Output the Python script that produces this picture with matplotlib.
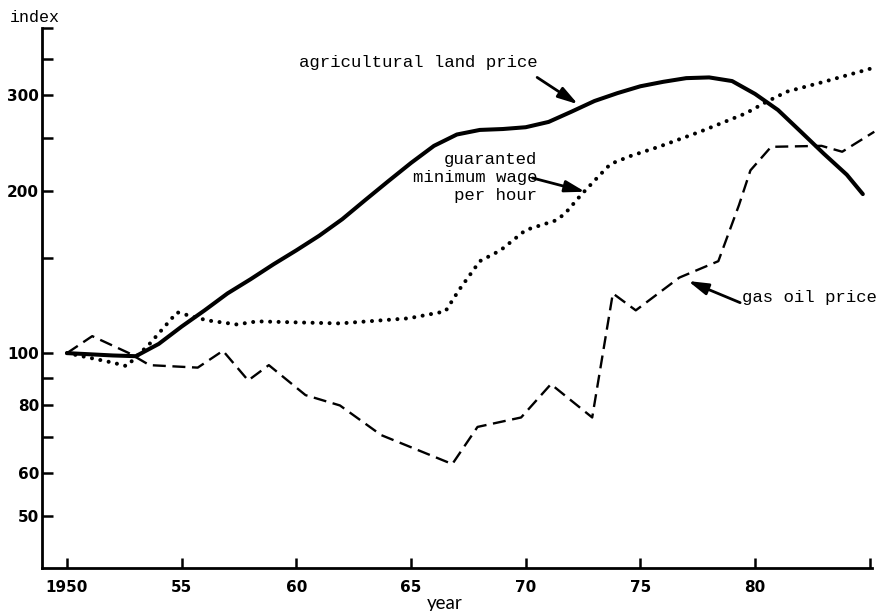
import matplotlib
matplotlib.use('Agg')
import matplotlib.pyplot as plt
from matplotlib.ticker import FixedLocator, FixedFormatter, NullFormatter

# agricultural land price (index, 1950 = 100)
land_years = [1950, 1951, 1952, 1953, 1954, 1955, 1956, 1957, 1958, 1959, 1960,
              1961, 1962, 1963, 1964, 1965, 1966, 1967, 1968, 1969, 1970, 1971,
              1972, 1973, 1974, 1975, 1976, 1977, 1978, 1979, 1980, 1981, 1982,
              1983, 1984, 1984.7]
land_index = [100, 99.5, 99, 98.7, 104, 112, 120, 129, 137, 146, 155,
              165, 177, 192, 208, 225, 242, 254, 259, 260, 262, 268,
              280, 293, 303, 312, 318, 323, 324, 319, 302, 282, 257,
              234, 214, 197]

# guaranteed minimum wage per hour
wage_years = [1950, 1951, 1952, 1952.6, 1953.6, 1954.8, 1956.1, 1957.4, 1958.3,
              1960, 1961.9, 1964.9, 1966.5, 1967.1, 1968, 1968.9, 1970, 1971.3,
              1971.7, 1972.4, 1973.2, 1973.7, 1974.6, 1975.8, 1977.6, 1979.6,
              1980.5, 1981.4, 1983, 1985]
wage_index = [100, 98, 96, 94.6, 104, 119, 115, 113, 114.5,
              114, 113.5, 116, 119.5, 131, 148, 155, 169, 176,
              181, 196, 213, 224, 232, 241, 257, 278,
              292, 305, 318, 336]

# gas oil price
gas_years = [1950, 1951.1, 1952.7, 1953.6, 1955.7, 1956.8, 1957.9, 1958.8, 1960.4,
             1961.9, 1963.7, 1966.8, 1967.9, 1969.8, 1971.1, 1972.9, 1973.8,
             1974.8, 1976.7, 1978.4, 1979.3, 1979.8, 1980.7, 1982.9, 1983.8, 1985.2]
gas_index = [100, 107.5, 100, 95, 94, 101, 89, 95, 83.6,
             80, 70.5, 62.3, 73, 76, 87.6, 76, 129,
             120, 138, 148, 188, 218, 241, 242, 236, 257]

x_major = [1950, 1955, 1960, 1965, 1970, 1975, 1980]
x_labels = ['1950', '55', '60', '65', '70', '75', '80']
y_major = [50, 60, 80, 100, 200, 300]
y_labels = ['50', '60', '80', '100', '200', '300']
y_minor = [70, 90, 150, 250, 350, 400]

mono = 'Liberation Mono'

fig = plt.figure(figsize=(8.85, 6.11), dpi=100)
ax = fig.add_axes([42 / 885, 1 - 568 / 611, 830 / 885, 540 / 611])
ax.set_yscale('log')
ax.set_xlim(1948.91, 1985.1)
ax.set_ylim(40, 400)

ax.plot(land_years, land_index, color='black', lw=2.9, solid_capstyle='round',
        solid_joinstyle='round')
ax.plot(wage_years, wage_index, color='black', lw=2.9, dashes=(0.01, 2.1),
        dash_capstyle='round', clip_on=False)
ax.plot(gas_years, gas_index, color='black', lw=1.7, dashes=(5.5, 2.8),
        clip_on=False)

for s in ['top', 'right']:
    ax.spines[s].set_visible(False)
for s in ['left', 'bottom']:
    ax.spines[s].set_linewidth(2)

ax.xaxis.set_major_locator(FixedLocator(x_major))
ax.xaxis.set_major_formatter(FixedFormatter(x_labels))
ax.xaxis.set_minor_locator(FixedLocator([1985]))
ax.yaxis.set_major_locator(FixedLocator(y_major))
ax.yaxis.set_major_formatter(FixedFormatter(y_labels))
ax.yaxis.set_minor_locator(FixedLocator(y_minor))
ax.yaxis.set_minor_formatter(NullFormatter())

ax.tick_params(axis='x', which='both', direction='in', length=7, width=1.8, pad=9)
ax.tick_params(axis='y', which='both', direction='in', length=8, width=1.8, pad=2)
for lab in ax.get_xticklabels() + ax.get_yticklabels():
    lab.set_fontweight('bold')
    lab.set_fontsize(11)
    lab.set_family('DejaVu Sans')

arrow = dict(arrowstyle='-|>,head_length=1.2,head_width=0.35', color='black',
             lw=2, shrinkA=0, shrinkB=0, mutation_scale=10)

ax.text(1970.5, 346, 'agricultural land price', family=mono, fontsize=12.5,
        ha='right', va='center')
ax.annotate('', xy=(1972.28, 289), xytext=(1970.5, 324), arrowprops=arrow)

ax.text(1970.5, 211, 'guaranted\nminimum wage\nper hour', family=mono, fontsize=12.5,
        ha='right', va='center', multialignment='right', linespacing=1.25)
ax.annotate('', xy=(1972.59, 199), xytext=(1970.3, 211), arrowprops=arrow)

ax.text(1979.44, 127, 'gas oil price', family=mono, fontsize=12.5,
        ha='left', va='center')
ax.annotate('', xy=(1977.08, 136), xytext=(1979.35, 124), arrowprops=arrow)

fig.text(10 / 885, 1 - 18 / 611, 'index', family=mono, fontsize=12, va='center')
fig.text(445 / 885, 1 - 603 / 611, 'year', family='Lato', fontsize=13.5,
         ha='center', va='center')

fig.savefig('out.png', dpi=100)
